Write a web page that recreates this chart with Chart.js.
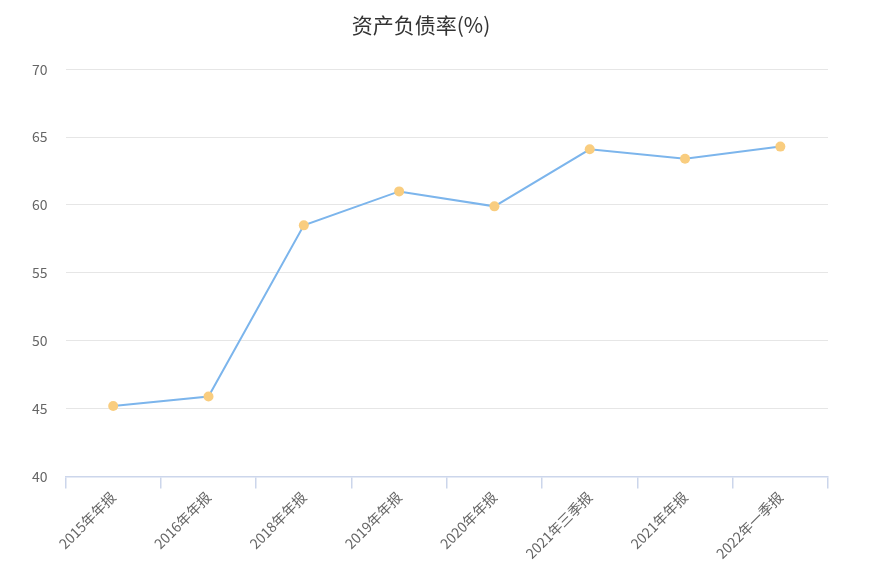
<!DOCTYPE html>
<html>
<head>
<meta charset="utf-8">
<script src="https://cdn.jsdelivr.net/npm/chart.js@4"></script>
<style>
  html, body { margin: 0; padding: 0; background: #fff; }
  #wrap { width: 878px; height: 578px; }
</style>
</head>
<body>
<div id="wrap"><canvas id="debtChart"></canvas></div>
<script>
const categories = ['2015年年报', '2016年年报', '2018年年报', '2019年年报', '2020年年报', '2021年三季报', '2021年年报', '2022年一季报'];
const debtRatio = [45.2, 45.9, 58.5, 61.0, 59.9, 64.1, 63.4, 64.3];
const yTicks = [40, 45, 50, 55, 60, 65, 70];

const font = '"Noto Sans CJK SC", "Microsoft YaHei", sans-serif';

new Chart(document.getElementById('debtChart').getContext('2d'), {
    type: 'line',
    data: {
        labels: categories,
        datasets: [{
            label: '资产负债率(%)',
            data: debtRatio,
            borderColor: '#7cb5ec',
            borderWidth: 2,
            backgroundColor: '#f9cd7f',
            pointBackgroundColor: '#f9cd7f',
            pointBorderWidth: 0,
            pointRadius: 5,
            tension: 0
        }]
    },
    options: {
        responsive: true,
        maintainAspectRatio: false,
        animation: false,
        layout: {
            padding: { left: 14, right: 50, top: 10, bottom: 16 }
        },
        plugins: {
            legend: { display: false },
            tooltip: { enabled: false },
            title: {
                display: true,
                text: '资产负债率(%)',
                color: '#333',
                font: { family: font, size: 21, weight: 'normal' },
                padding: { top: 2, bottom: 32 }
            }
        },
        scales: {
            x: {
                offset: true,
                grid: {
                    offset: true,
                    drawOnChartArea: false,
                    drawTicks: true,
                    tickLength: 12,
                    color: '#ccd6eb',
                    lineWidth: 1.5
                },
                border: { color: '#ccd6eb', width: 1.5 },
                ticks: {
                    color: '#666',
                    font: { family: font, size: 14 },
                    maxRotation: 45,
                    minRotation: 45,
                    padding: 0
                }
            },
            y: {
                min: 40,
                max: 70,
                afterBuildTicks: axis => {
                    axis.ticks = yTicks.map(v => ({ value: v }));
                },
                grid: {
                    color: '#e6e6e6',
                    drawTicks: false
                },
                border: { display: false },
                ticks: {
                    color: '#666',
                    font: { family: font, size: 14 },
                    padding: 18
                }
            }
        }
    }
});
</script>
</body>
</html>
